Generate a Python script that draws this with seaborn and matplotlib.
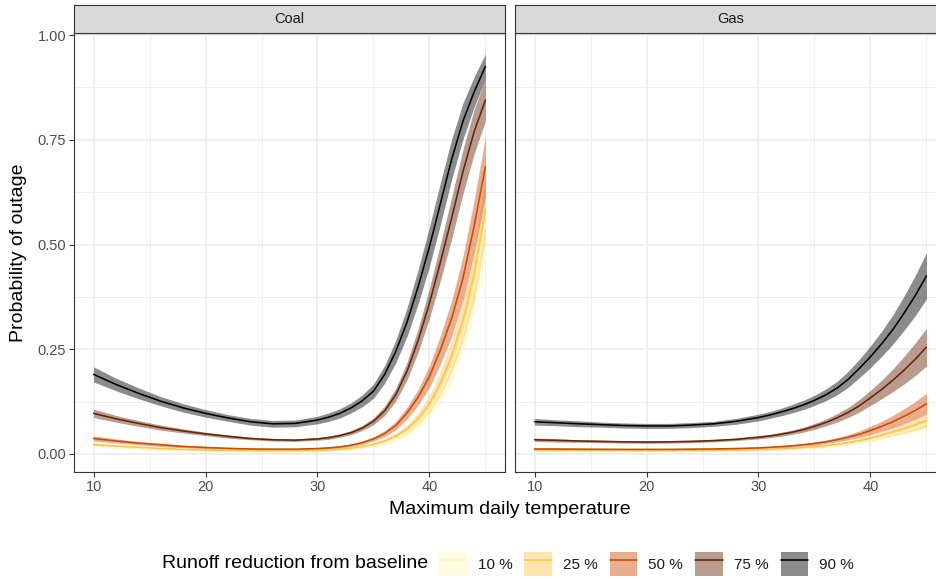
import numpy as np
import pandas as pd
import matplotlib
matplotlib.use("Agg")
import matplotlib.pyplot as plt
import seaborn as sns
from matplotlib.patches import Patch
from matplotlib.lines import Line2D
from matplotlib.legend_handler import HandlerTuple
from matplotlib.ticker import FixedLocator

# ---------------- data ----------------
temperature = [10, 12, 14, 16, 18, 20, 22, 24, 26, 28, 30, 31, 32, 33, 34, 35,
               36, 37, 38, 39, 40, 41, 42, 43, 44, 45]
fuels = ["Coal", "Gas"]
runoff_levels = ["10 %", "25 %", "50 %", "75 %", "90 %"]
level_colors = ["#FFF7BC", "#FEC44F", "#CC4C02", "#662506", "#000000"]

# Coal: predicted probability of outage
coal_10 = [0.019, 0.016, 0.0135, 0.011, 0.0095, 0.008, 0.0072, 0.0067, 0.0063, 0.0064, 0.0072,
           0.0082, 0.0095, 0.012, 0.0155, 0.020, 0.027, 0.037, 0.052, 0.074, 0.105, 0.150,
           0.210, 0.290, 0.400, 0.550]
coal_25 = [0.022, 0.019, 0.016, 0.013, 0.011, 0.0095, 0.0085, 0.008, 0.0075, 0.0075, 0.0085,
           0.0095, 0.011, 0.014, 0.018, 0.023, 0.031, 0.043, 0.060, 0.085, 0.120, 0.170,
           0.235, 0.320, 0.430, 0.585]
coal_50 = [0.037, 0.031, 0.026, 0.022, 0.018, 0.0155, 0.0135, 0.012, 0.0115, 0.0115, 0.013,
           0.0145, 0.017, 0.021, 0.027, 0.036, 0.049, 0.068, 0.098, 0.136, 0.185, 0.250,
           0.325, 0.420, 0.545, 0.686]
coal_75 = [0.097, 0.084, 0.073, 0.063, 0.055, 0.048, 0.042, 0.037, 0.034, 0.033, 0.036,
           0.039, 0.044, 0.051, 0.062, 0.078, 0.103, 0.142, 0.198, 0.272, 0.360, 0.460,
           0.565, 0.675, 0.770, 0.845]
coal_90 = [0.190, 0.166, 0.145, 0.126, 0.110, 0.097, 0.086, 0.077, 0.072, 0.073, 0.081,
           0.088, 0.097, 0.110, 0.127, 0.150, 0.190, 0.245, 0.315, 0.400, 0.495, 0.600,
           0.705, 0.795, 0.865, 0.925]

# Coal: half-width of the confidence ribbon
coal_hw_10 = [0.003, 0.003, 0.002, 0.002, 0.002, 0.002, 0.002, 0.002, 0.002, 0.002, 0.002,
              0.002, 0.002, 0.003, 0.003, 0.004, 0.005, 0.007, 0.010, 0.014, 0.020, 0.028,
              0.038, 0.050, 0.065, 0.080]
coal_hw_25 = [0.004, 0.003, 0.003, 0.002, 0.002, 0.002, 0.002, 0.002, 0.002, 0.002, 0.002,
              0.002, 0.002, 0.003, 0.003, 0.004, 0.005, 0.007, 0.010, 0.014, 0.020, 0.028,
              0.038, 0.050, 0.063, 0.075]
coal_hw_50 = [0.006, 0.005, 0.004, 0.004, 0.003, 0.003, 0.002, 0.002, 0.002, 0.002, 0.002,
              0.003, 0.003, 0.003, 0.004, 0.005, 0.007, 0.010, 0.014, 0.019, 0.026, 0.034,
              0.043, 0.052, 0.062, 0.072]
coal_hw_75 = [0.010, 0.008, 0.007, 0.006, 0.005, 0.004, 0.004, 0.003, 0.003, 0.003, 0.003,
              0.004, 0.004, 0.005, 0.006, 0.008, 0.011, 0.015, 0.021, 0.028, 0.036, 0.044,
              0.050, 0.053, 0.053, 0.050]
coal_hw_90 = [0.018, 0.015, 0.013, 0.011, 0.010, 0.009, 0.008, 0.008, 0.008, 0.008, 0.009,
              0.010, 0.011, 0.012, 0.014, 0.017, 0.021, 0.027, 0.034, 0.041, 0.047, 0.050,
              0.048, 0.043, 0.036, 0.030]

# Gas: predicted probability of outage
gas_10 = [0.008, 0.0077, 0.0074, 0.0072, 0.007, 0.007, 0.007, 0.0072, 0.0076, 0.0082, 0.0092,
          0.010, 0.011, 0.0122, 0.0137, 0.0155, 0.0177, 0.0204, 0.024, 0.0285, 0.034, 0.040,
          0.047, 0.054, 0.063, 0.072]
gas_25 = [0.009, 0.0087, 0.0084, 0.0082, 0.008, 0.008, 0.008, 0.0082, 0.0086, 0.0093, 0.0104,
          0.0113, 0.0124, 0.0138, 0.0155, 0.0175, 0.020, 0.023, 0.027, 0.032, 0.038, 0.045,
          0.053, 0.061, 0.070, 0.080]
gas_50 = [0.012, 0.0118, 0.0115, 0.0112, 0.011, 0.011, 0.011, 0.0115, 0.012, 0.013, 0.0145,
          0.016, 0.0175, 0.0195, 0.022, 0.025, 0.029, 0.034, 0.040, 0.047, 0.056, 0.066,
          0.077, 0.090, 0.104, 0.120]
gas_75 = [0.034, 0.0325, 0.031, 0.030, 0.029, 0.0285, 0.029, 0.030, 0.032, 0.035, 0.040,
          0.043, 0.047, 0.052, 0.058, 0.066, 0.075, 0.086, 0.099, 0.115, 0.134, 0.154,
          0.176, 0.200, 0.226, 0.255]
gas_90 = [0.077, 0.0745, 0.072, 0.070, 0.068, 0.067, 0.067, 0.069, 0.072, 0.078, 0.087,
          0.093, 0.100, 0.108, 0.117, 0.128, 0.141, 0.157, 0.178, 0.204, 0.232, 0.263,
          0.297, 0.336, 0.378, 0.425]

# Gas: half-width of the confidence ribbon
gas_hw_10 = [0.002, 0.002, 0.0015, 0.0015, 0.0015, 0.0015, 0.0015, 0.0015, 0.0015, 0.0015, 0.002,
             0.002, 0.002, 0.002, 0.0025, 0.003, 0.003, 0.0035, 0.004, 0.005, 0.006, 0.007,
             0.008, 0.010, 0.012, 0.014]
gas_hw_25 = [0.002, 0.002, 0.0015, 0.0015, 0.0015, 0.0015, 0.0015, 0.0015, 0.0015, 0.0015, 0.002,
             0.002, 0.002, 0.002, 0.0025, 0.003, 0.003, 0.0035, 0.004, 0.005, 0.006, 0.007,
             0.009, 0.011, 0.013, 0.015]
gas_hw_50 = [0.002, 0.002, 0.002, 0.002, 0.002, 0.002, 0.002, 0.002, 0.002, 0.002, 0.002,
             0.002, 0.003, 0.003, 0.003, 0.004, 0.004, 0.005, 0.006, 0.008, 0.010, 0.012,
             0.015, 0.018, 0.021, 0.025]
gas_hw_75 = [0.004, 0.004, 0.003, 0.003, 0.003, 0.003, 0.003, 0.003, 0.003, 0.003, 0.004,
             0.004, 0.005, 0.005, 0.006, 0.007, 0.008, 0.010, 0.012, 0.015, 0.018, 0.022,
             0.027, 0.033, 0.039, 0.045]
gas_hw_90 = [0.008, 0.007, 0.007, 0.006, 0.006, 0.006, 0.006, 0.006, 0.006, 0.007, 0.008,
             0.008, 0.009, 0.010, 0.011, 0.012, 0.014, 0.016, 0.019, 0.022, 0.026, 0.030,
             0.035, 0.041, 0.048, 0.055]

y_ticks = [0.0, 0.25, 0.5, 0.75, 1.0]
y_tick_labels = ["0.00", "0.25", "0.50", "0.75", "1.00"]
y_minor = [0.125, 0.375, 0.625, 0.875]
x_ticks = [10, 20, 30, 40]
x_minor = [15, 25, 35, 45]

series = {
    "Coal": [(coal_10, coal_hw_10), (coal_25, coal_hw_25), (coal_50, coal_hw_50),
             (coal_75, coal_hw_75), (coal_90, coal_hw_90)],
    "Gas": [(gas_10, gas_hw_10), (gas_25, gas_hw_25), (gas_50, gas_hw_50),
            (gas_75, gas_hw_75), (gas_90, gas_hw_90)],
}

rows = []
for fuel in fuels:
    for level, (vals, hws) in zip(runoff_levels, series[fuel]):
        assert len(vals) == len(temperature) and len(hws) == len(temperature)
        for t, v, h in zip(temperature, vals, hws):
            rows.append({"fuel": fuel, "level": level, "temperature": t,
                         "prob": v, "lo": v - h, "hi": v + h})
df = pd.DataFrame(rows)

# ---------------- styling ----------------
sns.set_theme(style="white")
plt.rcParams["font.family"] = ["Liberation Sans", "DejaVu Sans"]

W, H = 936, 579
fig = plt.figure(figsize=(W / 100, H / 100), dpi=100)
palette = dict(zip(runoff_levels, level_colors))

panel_top, panel_bottom = 33, 472
panel_lefts = [74, 515]
panel_width = 431
strip_top = 5


def fx(px):
    return px / W


def fy(py):
    return 1 - py / H


for i, fuel in enumerate(fuels):
    left = panel_lefts[i]
    ax = fig.add_axes([fx(left), fy(panel_bottom), panel_width / W,
                       (panel_bottom - panel_top) / H])
    d = df[df["fuel"] == fuel]
    for level in runoff_levels:
        s = d[d["level"] == level]
        ax.fill_between(s["temperature"], s["lo"], s["hi"], color=palette[level],
                        alpha=0.45, linewidth=0, zorder=2)
    sns.lineplot(data=d, x="temperature", y="prob", hue="level",
                 hue_order=runoff_levels, palette=palette, estimator=None,
                 linewidth=1.15, legend=False, ax=ax, zorder=3)
    ax.set_xlim(8.25, 46.75)
    ax.set_ylim(-0.043, 1.005)
    ax.xaxis.set_major_locator(FixedLocator(x_ticks))
    ax.xaxis.set_minor_locator(FixedLocator(x_minor))
    ax.yaxis.set_major_locator(FixedLocator(y_ticks))
    ax.yaxis.set_minor_locator(FixedLocator(y_minor))
    ax.set_yticklabels(y_tick_labels)
    ax.grid(which="major", color="#EBEBEB", linewidth=1.1, zorder=0)
    ax.grid(which="minor", color="#EBEBEB", linewidth=0.55, zorder=0)
    ax.set_axisbelow(True)
    ax.set_facecolor("white")
    for sp in ax.spines.values():
        sp.set_color("#333333")
        sp.set_linewidth(0.8)
        sp.set_visible(True)
    ax.set_xlabel("")
    ax.set_ylabel("")
    ax.tick_params(which="major", length=3.5, width=0.8, color="#333333",
                   labelcolor="#4D4D4D", labelsize=10.5, pad=2,
                   bottom=True, left=(i == 0))
    ax.tick_params(which="minor", length=0)
    if i > 0:
        ax.tick_params(labelleft=False, left=False)

    # facet strip
    sax = fig.add_axes([fx(left), fy(panel_top), panel_width / W,
                        (panel_top - strip_top) / H])
    sax.set_facecolor("#D9D9D9")
    sax.set_xticks([])
    sax.set_yticks([])
    for sp in sax.spines.values():
        sp.set_color("#333333")
        sp.set_linewidth(0.8)
        sp.set_visible(True)
    sax.text(0.5, 0.5, fuel, transform=sax.transAxes, ha="center", va="center",
             fontsize=10.5, color="#1A1A1A")

fig.text(fx(19), fy((panel_top + panel_bottom) / 2), "Probability of outage",
         rotation=90, ha="center", va="center", fontsize=14, color="black")
fig.text(fx(510), fy(510), "Maximum daily temperature", ha="center", va="center",
         fontsize=14, color="black")

# legend
fig.text(fx(162), fy(564), "Runoff reduction from baseline", ha="left", va="center",
         fontsize=14, color="black")
handles = [(Patch(facecolor=c, alpha=0.45, edgecolor="none"),
            Line2D([0], [0], color=c, linewidth=1.15)) for c in level_colors]
fig.legend(handles, runoff_levels,
           handler_map={tuple: HandlerTuple(ndivide=1, pad=0)},
           loc="center left", bbox_to_anchor=(fx(439), fy(564)), ncol=5,
           frameon=False, fontsize=11, handlelength=1.8, handleheight=2.1,
           handletextpad=0.72, columnspacing=0.8, borderpad=0, borderaxespad=0,
           labelcolor="#1A1A1A")

fig.savefig("out.png", dpi=100)
